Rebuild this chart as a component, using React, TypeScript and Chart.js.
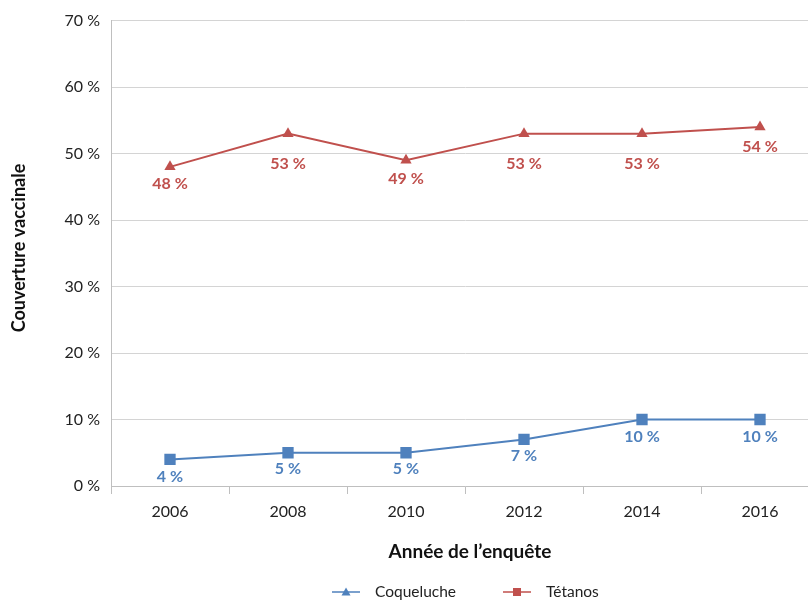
import React, { useEffect, useRef } from "react";
import { Chart, registerables } from "chart.js";

Chart.register(...registerables);

const years = ["2006", "2008", "2010", "2012", "2014", "2016"];
const tetanos = [48, 53, 49, 53, 53, 54];
const coqueluche = [4, 5, 5, 7, 10, 10];
const yTicks = [0, 10, 20, 30, 40, 50, 60, 70];
const legendLabels = ["Coqueluche", "Tétanos"];
const xTitle = "Année de l’enquête";
const yTitle = "Couverture vaccinale";
// vertical distance of each value label below its point (px)
const tetanosLabelOffsets = [17, 30, 19, 30, 30, 20];
const coquelucheLabelOffsets = [17, 16, 16, 16, 17, 17];

const RED = "#c0504d";
const BLUE = "#4f81bd";
const FONT = "Lato, 'Open Sans', sans-serif";
const CW = 827;

const extrasPlugin = {
  id: "extras",
  afterDatasetsDraw(chart: any) {
    const ctx = chart.ctx;
    ctx.save();
    // data labels
    chart.data.datasets.forEach((ds: any, i: number) => {
      const meta = chart.getDatasetMeta(i);
      const offs = ds.labelOffsets as number[];
      ctx.fillStyle = ds.borderColor;
      ctx.font = `bold 16px ${FONT}`;
      ctx.textAlign = "center";
      ctx.textBaseline = "middle";
      meta.data.forEach((pt: any, j: number) => {
        ctx.fillText(`${ds.data[j]} %`, pt.x, pt.y + offs[j]);
      });
    });
    // axis titles
    ctx.fillStyle = "#111";
    ctx.font = `bold 19px ${FONT}`;
    ctx.textAlign = "center";
    ctx.textBaseline = "middle";
    ctx.fillText(xTitle, 470, 552);
    ctx.save();
    ctx.translate(19, 248);
    ctx.rotate(-Math.PI / 2);
    ctx.font = `bold 18px ${FONT}`;
    ctx.fillText(yTitle, 0, 0);
    ctx.restore();
    // legend
    const items = [
      { label: legendLabels[0], color: BLUE, style: "triangle", x0: 332 },
      { label: legendLabels[1], color: RED, style: "rect", x0: 503 },
    ];
    const ly = 592;
    items.forEach((it) => {
      ctx.strokeStyle = it.color;
      ctx.lineWidth = 1.5;
      ctx.beginPath();
      ctx.moveTo(it.x0, ly);
      ctx.lineTo(it.x0 + 28, ly);
      ctx.stroke();
      ctx.fillStyle = it.color;
      const cx = it.x0 + 14;
      ctx.beginPath();
      if (it.style === "triangle") {
        ctx.moveTo(cx, ly - 4.5);
        ctx.lineTo(cx + 4.5, ly + 3.5);
        ctx.lineTo(cx - 4.5, ly + 3.5);
        ctx.closePath();
      } else {
        ctx.rect(cx - 4, ly - 4, 8, 8);
      }
      ctx.fill();
      ctx.fillStyle = "#222";
      ctx.font = `15.5px ${FONT}`;
      ctx.textAlign = "left";
      ctx.textBaseline = "middle";
      ctx.fillText(it.label, it.x0 + 43, ly);
    });
    ctx.restore();
  },
};

export default function App() {
  const ref = useRef<HTMLCanvasElement>(null);
  useEffect(() => {
    if (!ref.current) return;
    const chart = new Chart(ref.current, {
      type: "line",
      data: {
        labels: years,
        datasets: [
          {
            label: legendLabels[1],
            data: tetanos,
            labelOffsets: tetanosLabelOffsets,
            borderColor: RED,
            backgroundColor: RED,
            borderWidth: 2,
            pointStyle: "triangle",
            pointRadius: 6.5,
            pointHoverRadius: 6.5,
            pointBorderWidth: 0,
            tension: 0,
          } as any,
          {
            label: legendLabels[0],
            data: coqueluche,
            labelOffsets: coquelucheLabelOffsets,
            borderColor: BLUE,
            backgroundColor: BLUE,
            borderWidth: 2,
            pointStyle: "rect",
            pointRadius: 8,
            pointHoverRadius: 8,
            pointBorderWidth: 0,
            tension: 0,
          } as any,
        ],
      },
      options: {
        responsive: false,
        maintainAspectRatio: false,
        animation: false,
        layout: { padding: { top: 20, bottom: 0, left: 0, right: 0 } },
        plugins: {
          legend: { display: false },
          tooltip: { enabled: false },
        },
        scales: {
          x: {
            offset: true,
            grid: {
              offset: true,
              drawOnChartArea: false,
              drawTicks: true,
              tickLength: 8,
              color: "#bfbfbf",
            },
            border: { color: "#bfbfbf", width: 1 },
            ticks: {
              color: "#222",
              font: { family: FONT, size: 16 },
              padding: 8,
              maxRotation: 0,
            },
            afterFit: (s: any) => {
              s.height = 114;
            },
          },
          y: {
            min: 0,
            max: 70,
            afterBuildTicks: (s: any) => {
              s.ticks = yTicks.map((v) => ({ value: v }));
            },
            grid: { color: "#d4d4d4", drawTicks: false },
            border: { color: "#bfbfbf", width: 1 },
            ticks: {
              color: "#222",
              font: { family: FONT, size: 16 },
              padding: 11,
              callback: (v: any) => `${v} %`,
            },
            afterFit: (s: any) => {
              s.width = 111;
            },
          },
        },
      },
      plugins: [extrasPlugin],
    });
    return () => chart.destroy();
  }, []);
  return (
    <div
      style={{
        position: "fixed",
        left: 0,
        top: 0,
        width: 808,
        height: 600,
        overflow: "hidden",
        background: "#fff",
      }}
    >
      <div style={{ width: CW, height: 600 }}>
        <canvas
          ref={ref}
          width={CW}
          height={600}
          style={{ display: "block", width: CW, height: 600 }}
        />
      </div>
    </div>
  );
}
